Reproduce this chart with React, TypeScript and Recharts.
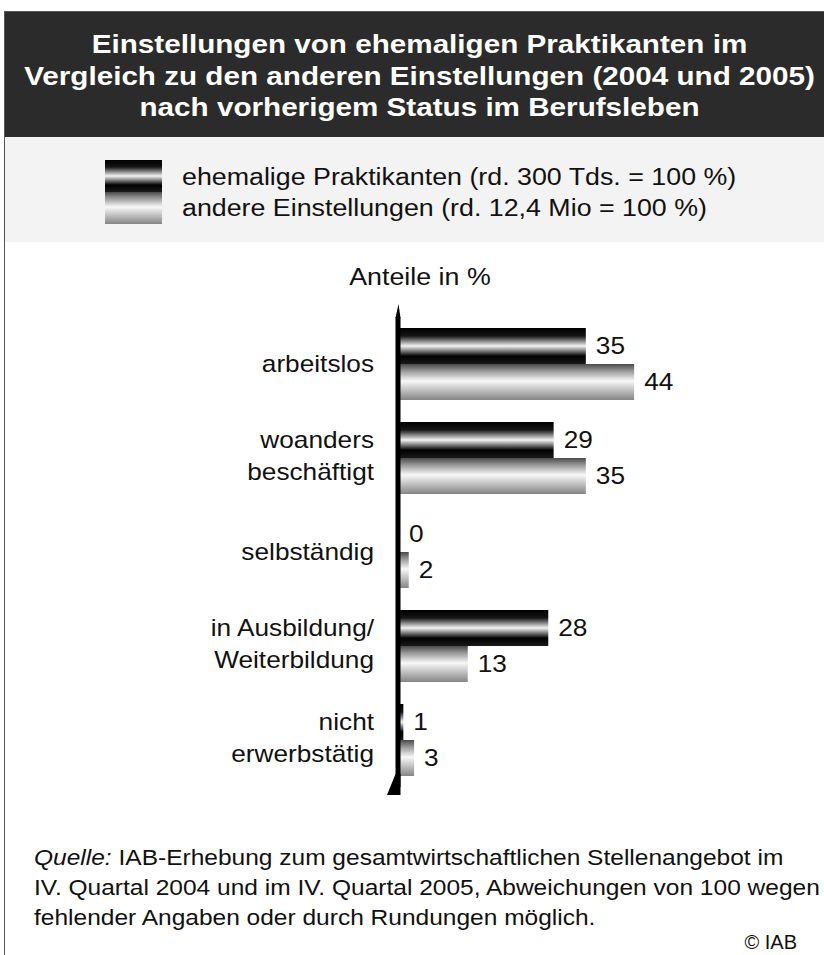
import { BarChart, Bar, XAxis, YAxis, LabelList } from "recharts";

const categories = [
  "arbeitslos",
  "woanders\nbeschäftigt",
  "selbständig",
  "in Ausbildung/\nWeiterbildung",
  "nicht\nerwerbstätig",
];
const praktikanten = [35, 29, 0, 28, 1];
const andere = [44, 35, 2, 13, 3];
const seriesNames = [
  "ehemalige Praktikanten (rd. 300 Tds. = 100 %)",
  "andere Einstellungen (rd. 12,4 Mio = 100 %)",
];
const titleLines = [
  "Einstellungen von ehemaligen Praktikanten im",
  "Vergleich zu den anderen Einstellungen (2004 und 2005)",
  "nach vorherigem Status im Berufsleben",
];
const sourceLines = [
  "IAB-Erhebung zum gesamtwirtschaftlichen Stellenangebot im",
  "IV. Quartal 2004 und im IV. Quartal 2005, Abweichungen von 100 wegen",
  "fehlender Angaben oder durch Rundungen möglich.",
];

const data = categories.map((name, i) => ({
  name,
  praktikanten: praktikanten[i],
  andere: andere[i],
}));

const font = "'Liberation Sans', Arial, sans-serif";
// the source artwork is set a bit wider than plain Arial
const stretch = 1.14;

function CategoryTick({ x, y, payload }: any) {
  const lines = String(payload.value).split("\n");
  const lh = 33;
  const y0 = -((lines.length - 1) * lh) / 2 + 8 - (lines.length > 1 ? 2 : 0);
  return (
    <g transform={`translate(${x},${y}) scale(${stretch},1)`}>
      <text x={0} y={y0} textAnchor="end" fontSize={23} fill="#111" fontFamily={font}>
        {lines.map((l, i) => (
          <tspan key={i} x={0} dy={i === 0 ? 0 : lh}>
            {l}
          </tspan>
        ))}
      </text>
    </g>
  );
}

function ValueLabel({ x, y, width, height, value }: any) {
  const lx = Number(x) + Number(width) + 10;
  const ly = Number(y) + Number(height) / 2;
  return (
    <g transform={`translate(${lx},${ly}) scale(${stretch},1)`}>
      <text x={0} y={8} fontSize={23} fill="#111" fontFamily={font}>
        {value}
      </text>
    </g>
  );
}

function Gradients() {
  return (
    <defs>
      <linearGradient id="gradDark" x1="0" y1="0" x2="0" y2="1">
        <stop offset="0" stopColor="#000" />
        <stop offset="0.22" stopColor="#151515" />
        <stop offset="0.5" stopColor="#f2f2f2" />
        <stop offset="0.78" stopColor="#000" />
        <stop offset="1" stopColor="#1a1a1a" />
      </linearGradient>
      <linearGradient id="gradLight" x1="0" y1="0" x2="0" y2="1">
        <stop offset="0" stopColor="#4a4a4a" />
        <stop offset="0.2" stopColor="#9a9a9a" />
        <stop offset="0.47" stopColor="#f8f8f8" />
        <stop offset="0.8" stopColor="#b0b0b0" />
        <stop offset="1" stopColor="#858585" />
      </linearGradient>
    </defs>
  );
}

const wide = (origin: string) => ({
  transform: `scaleX(${stretch})`,
  transformOrigin: origin,
});

export default function App() {
  return (
    <div
      style={{
        position: "absolute",
        left: 0,
        top: 0,
        width: 824,
        height: 955,
        overflow: "hidden",
        background: "#fff",
        fontFamily: font,
        color: "#111",
      }}
    >
      <svg width={0} height={0} style={{ position: "absolute" }}>
        <Gradients />
      </svg>

      {/* frame */}
      <div
        style={{
          position: "absolute",
          left: 4,
          top: 11,
          width: 900,
          height: 1000,
          border: "1.5px solid #555",
        }}
      />

      {/* title */}
      <div
        style={{
          position: "absolute",
          left: 5,
          top: 12,
          width: 829,
          height: 125,
          background: "#2b2b2b",
          color: "#fff",
          fontWeight: "bold",
          fontSize: 26,
          lineHeight: "31.5px",
          textAlign: "center",
          whiteSpace: "nowrap",
          paddingTop: 17,
          boxSizing: "border-box",
        }}
      >
        {titleLines.map((t) => (
          <div key={t} style={wide("center")}>
            {t}
          </div>
        ))}
      </div>

      {/* legend panel */}
      <div
        style={{
          position: "absolute",
          left: 5,
          top: 137,
          width: 830,
          height: 105,
          background: "#f3f3f3",
        }}
      >
        <svg
          width={57}
          height={64}
          style={{ position: "absolute", left: 100, top: 23 }}
        >
          <rect x={0} y={0} width={57} height={32} fill="url(#gradDark)" />
          <rect x={0} y={32} width={57} height={32} fill="url(#gradLight)" />
        </svg>
        {seriesNames.map((s, i) => (
          <div
            key={s}
            style={{
              position: "absolute",
              left: 177,
              top: 25 + i * 31,
              fontSize: 23.5,
              lineHeight: "30px",
              whiteSpace: "nowrap",
              ...wide("left"),
            }}
          >
            {s}
          </div>
        ))}
      </div>

      <div
        style={{
          position: "absolute",
          left: 320,
          width: 200,
          top: 262,
          fontSize: 23.5,
          lineHeight: "30px",
          textAlign: "center",
          ...wide("center"),
        }}
      >
        Anteile in %
      </div>

      {/* chart */}
      <div style={{ position: "absolute", left: 0, top: 290 }}>
        <BarChart
          width={824}
          height={510}
          data={data}
          layout="vertical"
          margin={{ top: 27, right: 104, bottom: 13, left: 0 }}
          barCategoryGap={11}
          barGap={0}
        >
          <Gradients />
          <XAxis type="number" domain={[0, 60]} hide />
          <YAxis
            type="category"
            dataKey="name"
            width={398}
            axisLine={{ stroke: "#000", strokeWidth: 5 }}
            tickLine={false}
            tickMargin={18}
            tick={<CategoryTick />}
            interval={0}
          />
          <Bar
            dataKey="praktikanten"
            name={seriesNames[0]}
            fill="url(#gradDark)"
            barSize={36}
            minPointSize={1}
            isAnimationActive={false}
          >
            <LabelList dataKey="praktikanten" content={<ValueLabel />} />
          </Bar>
          <Bar
            dataKey="andere"
            name={seriesNames[1]}
            fill="url(#gradLight)"
            barSize={36}
            minPointSize={1}
            isAnimationActive={false}
          >
            <LabelList dataKey="andere" content={<ValueLabel />} />
          </Bar>
        </BarChart>
        {/* tapered ends of the axis line */}
        <svg
          width={824}
          height={510}
          style={{ position: "absolute", left: 0, top: 0, pointerEvents: "none" }}
        >
          <polygon points="395.5,28 400.5,28 398.5,14" fill="#000" />
          <polygon points="395.5,484 400.5,484 400.5,505 387,505" fill="#000" />
        </svg>
      </div>

      {/* source */}
      <div
        style={{
          position: "absolute",
          left: 34,
          top: 843,
          fontSize: 21.5,
          lineHeight: "30px",
          whiteSpace: "nowrap",
          ...wide("left"),
        }}
      >
        {sourceLines.map((l, i) => (
          <div key={i}>
            {i === 0 && <i>Quelle:</i>}
            {i === 0 ? " " : ""}
            {l}
          </div>
        ))}
      </div>
      <div
        style={{
          position: "absolute",
          right: 27,
          top: 928,
          fontSize: 20,
          lineHeight: "28px",
        }}
      >
        © IAB
      </div>
    </div>
  );
}
